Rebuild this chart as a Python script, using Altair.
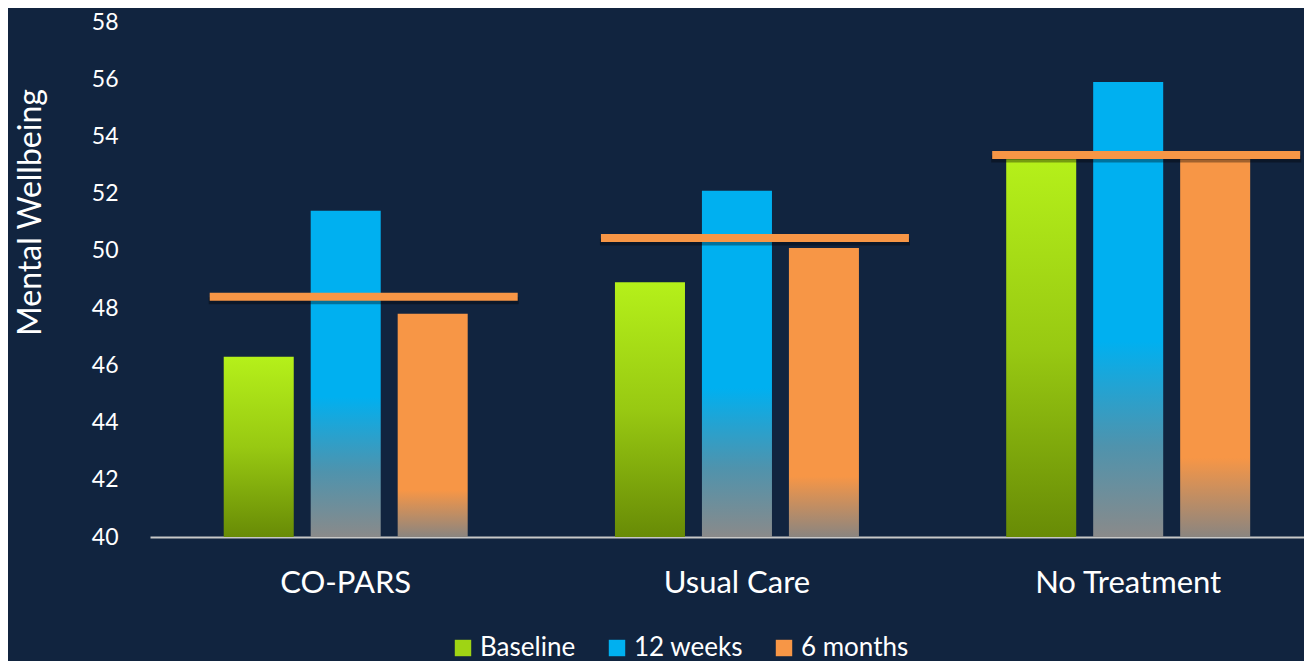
import altair as alt
import pandas as pd

groups = ["CO-PARS", "Usual Care", "No Treatment"]
series = ["Baseline", "12 weeks", "6 months"]
baseline = [46.3, 48.9, 53.2]
weeks12 = [51.4, 52.1, 55.9]
months6 = [47.8, 50.1, 53.2]
reference = [48.4, 50.45, 53.35]
y_ticks = [40, 42, 44, 46, 48, 50, 52, 54, 56, 58]

rows = []
for s, vals in zip(series, [baseline, weeks12, months6]):
    for g, v in zip(groups, vals):
        rows.append({"group": g, "series": s, "value": v})
df = pd.DataFrame(rows)
ref_df = pd.DataFrame({"group": groups, "value": reference})

BG = "#11243f"
FONT = "Lato"

grad = {
    "Baseline": alt.LinearGradient(gradient="linear", x1=0, x2=0, y1=0, y2=1, stops=[
        alt.GradientStop(color="#b5f01a", offset=0),
        alt.GradientStop(color="#98c912", offset=0.5),
        alt.GradientStop(color="#688b06", offset=1)]),
    "12 weeks": alt.LinearGradient(gradient="linear", x1=0, x2=0, y1=0, y2=1, stops=[
        alt.GradientStop(color="#00b0f0", offset=0),
        alt.GradientStop(color="#00b0f0", offset=0.57),
        alt.GradientStop(color="#4f93ad", offset=0.8),
        alt.GradientStop(color="#8a8a8a", offset=1)]),
    "6 months": alt.LinearGradient(gradient="linear", x1=0, x2=0, y1=0, y2=1, stops=[
        alt.GradientStop(color="#f79646", offset=0),
        alt.GradientStop(color="#f79646", offset=0.79),
        alt.GradientStop(color="#8a8580", offset=1)]),
}
legend_colors = ["#9fd414", "#00b0f0", "#f79646"]

x_enc = alt.X("group:N", sort=groups,
              scale=alt.Scale(domain=groups, paddingInner=0.3764, paddingOuter=0.163, align=0.578),
              axis=alt.Axis(title=None, labelAngle=0, labelFontSize=31, labelColor="white",
                            labelFont=FONT, labelPadding=31, labelLimit=0, ticks=False,
                            domainColor="#c8c8c8", domainWidth=2))
y_scale = alt.Scale(domain=[40, 58], nice=False, zero=False)
y_enc = alt.Y("value:Q", scale=y_scale,
              axis=alt.Axis(title="Mental Wellbeing", values=y_ticks, grid=False, domain=False,
                            ticks=False, labelFontSize=23, labelColor="white", labelFont=FONT,
                            labelPadding=32, titleFontSize=32, titleColor="white",
                            titleFont=FONT, titleFontWeight="normal", titleX=-110, titleY=190,
                            titleBaseline="alphabetic", titleAlign="center", titleAngle=-90))
xoff = alt.XOffset("series:N", scale=alt.Scale(domain=series, paddingInner=0.195, paddingOuter=0))

base = alt.Chart(df)
layers = []
for s in series:
    layers.append(
        base.transform_filter(alt.datum.series == s)
        .mark_bar(fill=grad[s])
        .encode(x=x_enc, xOffset=xoff, y=y_enc, y2=alt.datum(40))
    )

ref_base = alt.Chart(ref_df)
shadow = ref_base.mark_tick(color="#000000", opacity=0.35, thickness=7, size=310,
                            xOffset=18, yOffset=4).encode(x=x_enc, y=y_enc)
line = ref_base.mark_tick(color="#f79646", opacity=1, thickness=8, size=308,
                          xOffset=18).encode(x=x_enc, y=y_enc)

legend_layer = base.mark_square(opacity=0).encode(
    x=x_enc, xOffset=xoff, y=y_enc,
    color=alt.Color("series:N", scale=alt.Scale(domain=series, range=legend_colors),
                    legend=alt.Legend(title=None, orient="none", direction="horizontal",
                                      legendX=300, legendY=613, symbolType="square",
                                      symbolSize=270, symbolOpacity=1, symbolStrokeWidth=0,
                                      labelFontSize=26, labelFont=FONT, labelColor="white",
                                      labelOffset=4, columnPadding=28, padding=0)))

chart = alt.layer(*layers, shadow, line, legend_layer).properties(
    width=1154, height=515,
    background=BG,
    padding={"left": 142, "top": 14, "right": 0, "bottom": 124},
    autosize=alt.AutoSizeParams(type="none"),
).configure_view(stroke=None)

chart.save("out.html", embed_options={"renderer": "svg", "actions": False})
